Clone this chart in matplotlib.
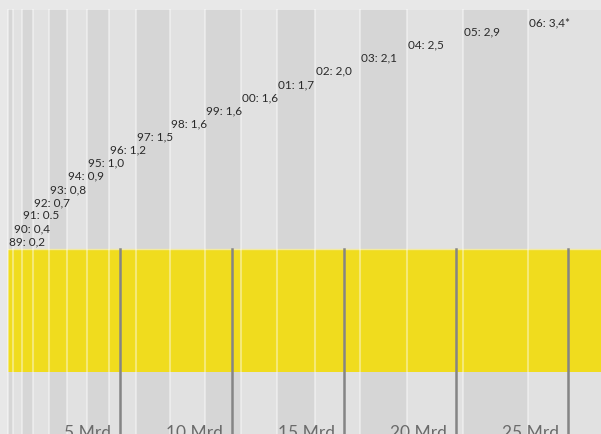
import numpy as np
import matplotlib.pyplot as plt

# ------------------------------------------------------------------
# Data (Mrd. per year)
# ------------------------------------------------------------------
years = ["89", "90", "91", "92", "93", "94", "95", "96", "97",
         "98", "99", "00", "01", "02", "03", "04", "05", "06"]
values = [0.2, 0.4, 0.5, 0.7, 0.8, 0.9, 1.0, 1.2, 1.5,
          1.6, 1.6, 1.6, 1.7, 2.0, 2.1, 2.5, 2.9, 3.4]
value_text = ["0,2", "0,4", "0.5", "0,7", "0,8", "0,9", "1,0", "1,2", "1,5",
              "1,6", "1,6", "1,6", "1,7", "2,0", "2,1", "2,5", "2,9", "3,4*"]
tick_values = [5, 10, 15, 20, 25]
tick_labels = ["5 Mrd.", "10 Mrd.", "15 Mrd.", "20 Mrd.", "25 Mrd."]

plt.rcParams["font.family"] = ["Lato", "DejaVu Sans"]

# ------------------------------------------------------------------
# Layout: x in Mrd., y in pixel rows (0 at top)
# ------------------------------------------------------------------
px_per_mrd = 22.4
x0_px = 8.3
W, H = 601, 435

fig = plt.figure(figsize=(W / 100, H / 100), dpi=100)
fig.patch.set_facecolor("#e8e8e8")
ax = fig.add_axes([0, 0, 1, 1])
ax.set_facecolor("#e8e8e8")
ax.set_xlim(-x0_px / px_per_mrd, (W - x0_px) / px_per_mrd)
ax.set_ylim(H, 0)
ax.axis("off")

starts = np.concatenate([[0], np.cumsum(values)[:-1]])
top, yellow_top, yellow_bot = 11, 250, 373

# year bands, alternating shades
for i, (s, v) in enumerate(zip(starts, values)):
    shade = "#d6d6d6" if i % 2 == 0 else "#e1e1e1"
    ax.bar(s, H - top, width=v, bottom=top, align="edge",
           color=shade, linewidth=0, zorder=1)

# yellow strip
ax.bar(0, yellow_bot - yellow_top, width=sum(values) + 1, bottom=yellow_top,
       align="edge", color="#f0dc1e", linewidth=0, zorder=2)
ax.plot([0, sum(values) + 1], [yellow_top - 0.5] * 2, color="#f3eaa0",
        lw=1, zorder=2)

# separators between bands
for s in starts:
    ax.plot([s, s], [top, H], color="white", alpha=0.4, lw=1.5, zorder=3)

# tick lines and labels
for t, lab in zip(tick_values, tick_labels):
    ax.plot([t, t], [yellow_top, H], color="#858585", lw=1.8, zorder=4)
    ax.text(t - 5 / px_per_mrd, 425, lab, ha="right", va="top",
            fontsize=12.5, color="#6a6a6a", zorder=5)

# year labels, staircase
for i, (s, y, vt) in enumerate(zip(starts, years, value_text)):
    ly = max(242 - 13.13 * i, 23)
    ax.text(s + 1 / px_per_mrd, ly, f"{y}: {vt}", ha="left", va="center",
            fontsize=8.5, color="#2a2a2a", zorder=5)

fig.savefig("out.png", dpi=100, facecolor=fig.get_facecolor())
